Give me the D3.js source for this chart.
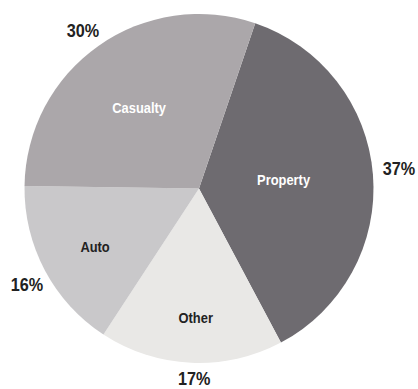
<!DOCTYPE html>
<html>
<head>
<meta charset="utf-8">
<script src="https://cdn.jsdelivr.net/npm/d3@7"></script>
<style>
  html, body { margin: 0; padding: 0; background: #fff; }
  svg { display: block; }
  text { font-family: "Liberation Sans", Arial, sans-serif; font-weight: bold; }
</style>
</head>
<body>
<script>
// Premium mix by line of business (percent)
const categories = ["Property", "Other", "Auto", "Casualty"];
const shares = [37, 17, 16, 30];
const shareLabels = ["37%", "17%", "16%", "30%"];

const colors = ["#6e6b70", "#e9e8e6", "#c9c8ca", "#aba7aa"];
const nameColors = ["#ffffff", "#222222", "#222222", "#ffffff"];
// radius at which each slice name and percentage sits
const nameRadius = [85, 129, 119, 101];
const pctRadius = [201, 190, 197, 196];

const width = 418, height = 389;
const cx = 199, cy = 188.5, r = 174.5;
const startAngle = 18.8 * Math.PI / 180;
const squeeze = 0.86; // condensed lettering

const svg = d3.select("body").append("svg")
  .attr("width", width).attr("height", height);

const g = svg.append("g").attr("transform", `translate(${cx},${cy})`);

const pie = d3.pie().sort(null).value(d => d)
  .startAngle(startAngle).endAngle(startAngle + 2 * Math.PI);
const arcs = pie(shares);

const arc = d3.arc().innerRadius(0).outerRadius(r);

g.selectAll("path.slice").data(arcs).join("path")
  .attr("class", "slice")
  .attr("d", arc)
  .attr("fill", (d, i) => colors[i]);

function polar(a, rad) {
  return [Math.sin(a) * rad, -Math.cos(a) * rad];
}

g.selectAll("text.name").data(arcs).join("text")
  .attr("class", "name")
  .attr("text-anchor", "middle")
  .attr("dy", "0.358em")
  .attr("font-size", 15)
  .attr("fill", (d, i) => nameColors[i])
  .attr("transform", (d, i) => {
    const [x, y] = polar((d.startAngle + d.endAngle) / 2 - 0.02, nameRadius[i]);
    return `translate(${x},${y}) scale(${squeeze},1)`;
  })
  .text((d, i) => categories[i]);

g.selectAll("text.pct").data(arcs).join("text")
  .attr("class", "pct")
  .attr("text-anchor", "middle")
  .attr("dy", "0.358em")
  .attr("font-size", 18)
  .attr("fill", "#222")
  .attr("transform", (d, i) => {
    const [x, y] = polar((d.startAngle + d.endAngle) / 2 - 0.02, pctRadius[i]);
    return `translate(${x},${y}) scale(0.9,1)`;
  })
  .text((d, i) => shareLabels[i]);
</script>
</body>
</html>
